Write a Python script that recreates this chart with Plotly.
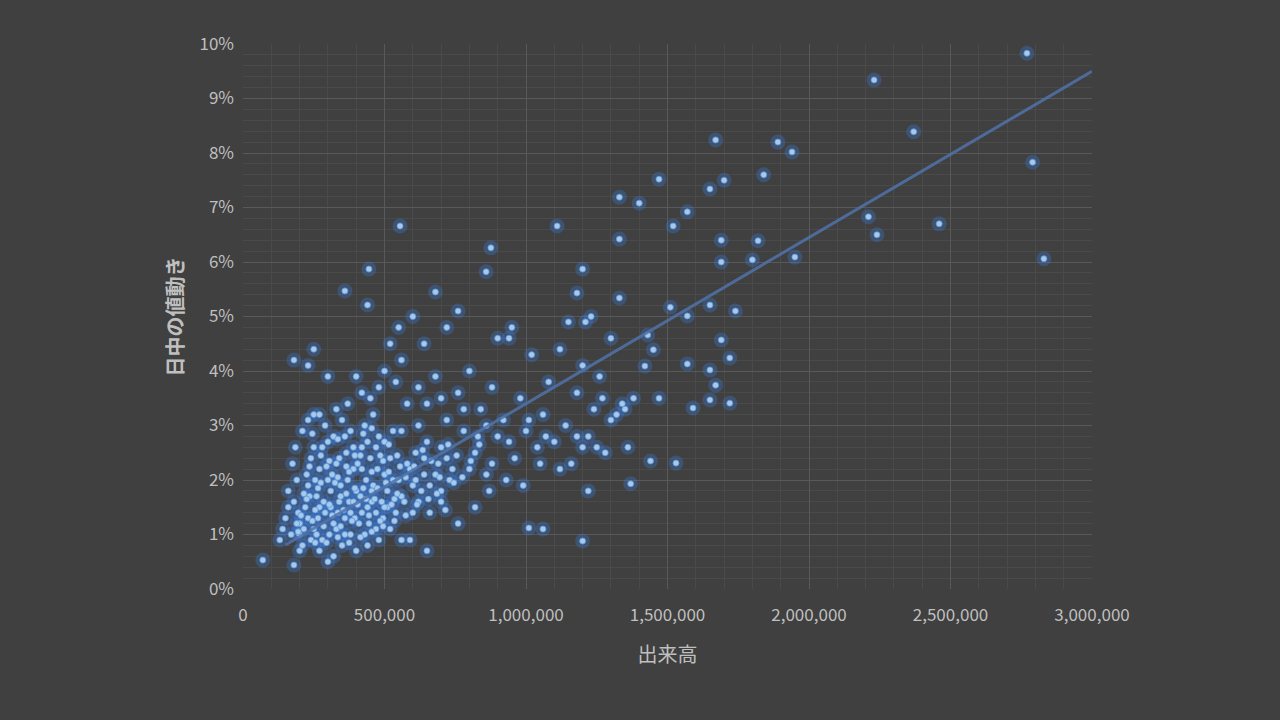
import plotly.graph_objects as go

# points: (volume in thousands, intraday move in %)
pts = [
(2770,9.83),(2230,9.34),(2370,8.39),(2790,7.83),(2830,6.06),(2460,6.70),(2240,6.50),(2210,6.83),
(1670,8.24),(1890,8.20),(1940,8.02),(1840,7.60),(1950,6.09),(1820,6.39),(1800,6.04),(1700,7.50),
(1650,7.34),(1470,7.52),(1330,7.19),(1400,7.08),(1570,6.92),(1520,6.66),(1330,6.42),(1690,6.40),
(1690,6.00),(1110,6.66),(555,6.66),(876,6.26),(859,5.82),(1200,5.87),(445,5.87),(360,5.47),
(440,5.21),(680,5.45),(1180,5.43),(1330,5.34),(1510,5.17),(1650,5.21),(1740,5.10),(1570,5.01),
(1010,1.12),(1060,1.10),(1200,0.88),(1530,2.31),(1440,2.35),(1370,1.93),(1720,3.41),(1650,3.47),
(1670,3.74),(1690,4.57),(1720,4.24),(1570,4.13),(1590,3.32),(1470,3.50),(1430,4.66),(1450,4.39),
(1420,4.09),(1650,4.02),(70,0.53),(180,0.44),
(620,3.0),(650,3.4),(680,3.9),(700,2.6),(720,3.1),(740,2.2),(760,3.6),(780,2.9),(800,4.0),(820,2.5),
(840,3.3),(860,2.1),(880,3.7),(900,2.8),(920,3.1),(940,4.6),(960,2.4),(980,3.5),(1000,2.9),(1020,4.3),
(1040,2.6),(1060,3.2),(1080,3.8),(1100,2.7),(1120,4.4),(1140,3.0),(1160,2.3),(1180,3.6),(1200,4.1),
(1220,2.8),(1240,3.3),(1260,3.9),(1280,2.5),(1300,4.6),(1320,3.2),(1340,3.4),(1360,2.6),(1380,3.5),
(1210,4.9),(1230,5.0),(1150,4.9),(950,4.8),(900,4.6),(760,5.1),(720,4.8),(640,4.5),(600,5.0),(550,4.8),
(520,4.5),(820,1.5),(870,1.8),(930,2.0),(990,1.9),(700,1.6),(760,1.2),(660,1.4),(600,1.9),(1050,2.3),
(1120,2.2),(1250,2.6),(1180,2.8),(880,2.3),(940,2.7),(1010,3.1),(1070,2.8),(780,3.3),(830,2.8),(650,2.7),
(700,3.5),(1300,3.1),(1270,3.5),(1350,3.3),(800,2.2),(860,3.0),(730,2.0),(690,2.3),(640,2.1),(610,2.5),
(560,2.9),(580,3.4),(540,3.8),(560,4.2),(500,4.0),(480,3.7),(460,3.2),(620,3.7),(590,2.2),(530,2.0),
(560,1.7),(510,1.5),(620,1.6),(650,0.7),(560,0.9),(590,0.9),(1200,2.6),(1220,1.8),
(150,1.3),(170,1.0),(180,1.6),(190,2.0),(200,1.2),(210,0.8),(220,1.5),(230,1.9),(240,2.4),(250,1.1),
(260,1.7),(270,2.2),(280,0.9),(290,1.4),(300,2.7),(310,1.8),(320,1.2),(330,2.3),(340,1.6),(350,3.1),
(360,1.0),(370,2.0),(380,1.4),(390,2.6),(400,1.8),(410,1.2),(420,2.2),(430,3.0),(440,1.5),(450,2.4),
(460,1.9),(470,1.1),(480,2.8),(490,1.6),(500,2.1),(160,1.8),(175,2.3),(195,1.4),(215,1.1),(235,1.7),
(255,2.0),(265,1.3),(285,1.6),(305,1.0),(315,2.1),(335,1.4),(345,1.9),(365,2.5),(375,1.6),(395,1.3),
(405,2.3),(415,1.7),(435,2.0),(445,1.2),(455,1.6),(475,2.2),(495,1.3),(510,1.8),(520,2.4),(540,1.4),
(550,2.0),(570,1.6),(580,2.3),(600,1.4),(610,2.0),(630,1.8),(640,2.4),(660,1.9),(680,2.1),(700,1.8),
(720,2.4),(520,1.1),(480,0.9),(440,0.8),(400,0.7),(350,0.8),(320,0.6),(300,0.5),(270,0.7),(240,0.9),
(200,0.7),(130,0.9),(140,1.1),(185,2.6),(210,2.9),(230,3.1),(250,3.2),(270,3.2),(290,3.0),(330,3.3),
(370,3.4),(400,3.9),(420,3.6),(450,3.5),(440,2.7),(380,2.9),(360,2.8),(320,2.8),(280,2.6),(250,2.6),
(225,2.1),(300,2.0),(340,2.4),(390,2.2),(420,2.6),(470,2.6),(500,2.7),(530,2.9),(180,4.2),(250,4.4),
(300,3.9),(230,4.1),(200,1.0),(260,1.0),(330,1.1),(380,1.0),(430,1.0),(470,1.4),(360,1.3),(310,1.5),
(270,1.5),(230,1.3),(190,1.2),(160,1.5),(345,1.7),(390,1.6),(420,1.4),(455,1.8),(500,1.5),
(205,1.35),(225,1.65),(245,1.25),(265,1.85),(285,1.15),(305,1.55),(325,1.95),(345,1.15),(365,1.75),
(385,1.25),(405,1.55),(425,1.85),(445,1.35),(465,1.65),(485,1.25),(505,1.95),(525,1.55),(545,1.75),
(215,1.75),(235,2.25),(255,1.45),(275,1.95),(295,2.25),(315,1.35),(335,2.05),(355,1.45),(375,2.15),
(395,1.85),(415,2.45),(435,1.65),(455,2.15),(475,1.85),(495,2.35),(515,2.15),(535,1.65),(555,2.25),
(245,2.85),(275,2.45),(305,2.35),(335,2.75),(365,2.25),(395,2.45),(425,2.85),(455,2.95),(485,2.45),
(515,2.65),(545,2.45),(575,2.05),(605,2.25),(635,2.55),(665,2.35),(695,2.05),(725,2.65),(755,2.45),
(195,1.05),(255,0.85),(295,0.85),(335,0.95),(375,0.85),(415,0.95),(455,1.05),(495,1.15),(535,1.25),
(575,1.35),(615,1.55),(655,1.65),(685,1.75),(715,1.45),(745,1.95),(775,2.05),(805,2.35),(835,2.65),
]
volume = [p[0] * 1000 for p in pts]
move = [p[1] / 100 for p in pts]

trend_x = [150000, 3000000]
trend_slope = 0.0305 / 1e6
trend_icpt = 0.0035
trend_y = [trend_icpt + trend_slope * x for x in trend_x]

fig = go.Figure()
fig.add_trace(go.Scatter(x=volume, y=move, mode="markers", hoverinfo="skip",
    marker=dict(size=15, color="rgba(60,125,230,0.3)", line=dict(width=0))))
fig.add_trace(go.Scatter(x=volume, y=move, mode="markers",
    marker=dict(size=6, color="#a9c8ec", line=dict(width=0.8, color="#5b9bd5"))))
fig.add_trace(go.Scatter(x=trend_x, y=trend_y, mode="lines",
    line=dict(color="rgba(80,115,170,0.85)", width=3)))

axfont = dict(family="Noto Sans CJK JP", size=17, color="#bfbfbf")
fig.update_layout(
    width=1280, height=720, showlegend=False,
    paper_bgcolor="#404040", plot_bgcolor="#404040",
    margin=dict(l=243, r=188, t=44, b=131),
    font=dict(family="Noto Sans CJK JP", color="#bfbfbf"),
    xaxis=dict(range=[0, 3000000], dtick=500000, tickformat=",d", tickfont=axfont,
               gridcolor="#595959", zeroline=False, showline=False, ticks="",
               ticklabelstandoff=14,
               minor=dict(dtick=100000, gridcolor="#4a4a4a", showgrid=True),
               title=dict(text="出来高", font=dict(family="Noto Sans CJK JP", size=20, color="#bfbfbf"), standoff=22)),
    yaxis=dict(range=[0, 0.1], dtick=0.01, tickformat=".0%", tickfont=axfont,
               gridcolor="#595959", zeroline=False, showline=False, ticks="",
               ticklabelstandoff=8,
               minor=dict(dtick=0.002, gridcolor="#4a4a4a", showgrid=True),
               title=dict(text="<b>日中の値動き</b>", font=dict(family="Noto Sans CJK JP", size=20, color="#bfbfbf"), standoff=10)),
)
fig.write_html("out.html", config={"displayModeBar": False},
               post_script="document.body.style.margin='0';document.body.style.background='#404040';")
